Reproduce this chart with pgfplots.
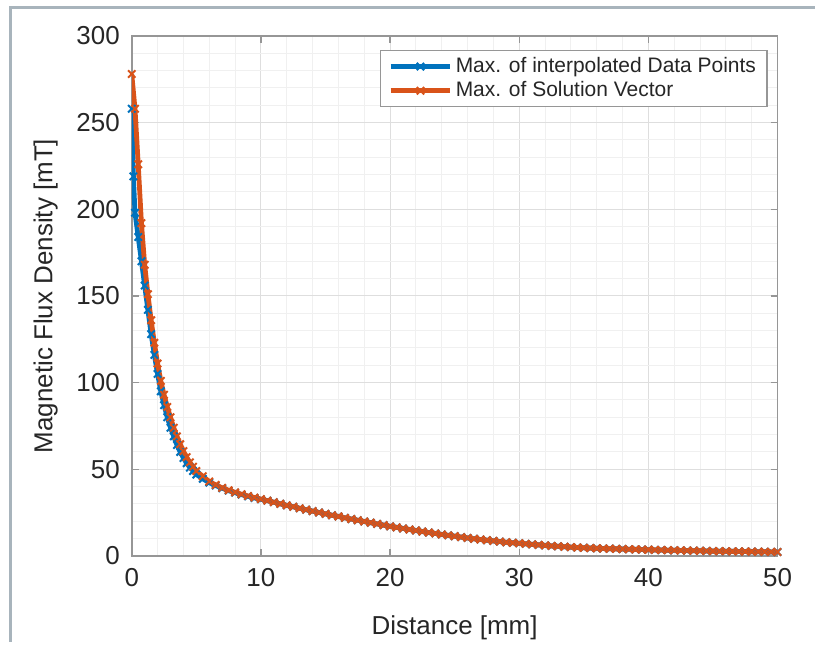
\documentclass[border=0pt]{standalone}
\usepackage{fontspec}
\setmainfont{Liberation Sans}
\usepackage{pgfplots}
\pgfplotsset{compat=1.18}
\definecolor{mblue}{RGB}{0,114,189}
\definecolor{morange}{RGB}{217,83,25}
\definecolor{axgray}{RGB}{150,150,150}
\definecolor{txtgray}{RGB}{38,38,38}
\definecolor{framegray}{RGB}{168,180,188}
\begin{document}
\begin{tikzpicture}
\path (-66pt,-43pt) rectangle (342pt,278.5pt);
\draw[framegray, line width=1.5pt] (-60.5pt,-43pt) -- (-60.5pt,274.5pt) -- (342pt,274.5pt);
\begin{axis}[
  at={(0,0)}, anchor=south west,
  scale only axis, width=323.5pt, height=260.5pt,
  xmin=0, xmax=50, ymin=0, ymax=300,
  xtick={0,10,...,50}, ytick={0,50,...,300},
  minor tick num=4,
  grid=both,
  major grid style={draw=black!13, line width=0.5pt},
  minor grid style={draw=black!6, line width=0.5pt},
  axis line style={axgray, line width=0.8pt},
  tick style={axgray, line width=0.6pt},
  major tick length=3.5pt, minor tick length=0pt,
  tick align=inside,
  /pgf/number format/assume math mode=true,
  tick label style={font=\fontsize{13}{15}\selectfont, text=txtgray},
  xticklabel style={yshift=-2.5pt},
  yticklabel style={xshift=-2.5pt},
  label style={font=\fontsize{13}{15}\selectfont, text=txtgray},
  xlabel={Distance [mm]}, ylabel={Magnetic Flux Density [mT]},
  xlabel style={yshift=-8pt},
  ylabel style={yshift=2.5pt},
  legend style={at={(1,1)}, anchor=north east, xshift=-5pt, yshift=-7pt,
    draw=axgray, line width=0.6pt, font=\fontsize{10.5}{12.5}\selectfont,
    text=txtgray, inner xsep=4pt, inner ysep=2pt, row sep=0pt,
    nodes={inner sep=1.5pt}},
  legend cell align=left,
  legend image code/.code={\draw[#1, mark repeat=2, mark phase=2] plot coordinates {(0pt,0pt) (15pt,0pt) (30pt,0pt)};},
]
\addplot[mblue, line width=2.4pt, mark=x, mark size=2.6pt, mark options={line width=1pt}] coordinates {
(0,258) (0.125,219) (0.25,198) (0.5,184) (0.75,170) (1,156) (1.25,142) (1.5,128) (1.75,116)
(2,105) (2.25,95) (2.5,87) (2.75,80) (3,74) (3.25,69) (3.5,64) (3.75,60)
(4,56.5) (4.25,53.5) (4.5,51) (4.75,49) (5,47) (5.5,44.5) (6,42.3) (6.5,40.6)
(7,39.1) (7.5,37.7) (8,36.5) (8.5,35.4) (9,34.4) (9.5,33.5) (10,32.7)
(10.5,31.9) (11,31.0) (11.5,30.1) (12,29.2) (12.5,28.4) (13,27.5) (13.5,26.7)
(14,25.9) (14.5,25.1) (15,24.3) (15.5,23.5) (16,22.8) (16.5,22.0) (17,21.3)
(17.5,20.6) (18,19.9) (18.5,19.2) (19,18.5) (19.5,17.8) (20,17.1) (20.5,16.5)
(21,15.9) (21.5,15.3) (22,14.7) (22.5,14.1) (23,13.5) (23.5,13.0) (24,12.4)
(24.5,11.9) (25,11.4) (25.5,10.9) (26,10.4) (26.5,9.9) (27,9.5) (27.5,9.1)
(28,8.7) (28.5,8.3) (29,7.9) (29.5,7.6) (30,7.3) (30.5,7.0) (31,6.7) (31.5,6.4)
(32,6.1) (32.5,5.8) (33,5.6) (33.5,5.3) (34,5.1) (34.5,4.9) (35,4.7) (35.5,4.55)
(36,4.4) (36.5,4.3) (37,4.2) (37.5,4.1) (38,4.0) (38.5,3.9) (39,3.8) (39.5,3.7)
(40,3.6) (40.5,3.5) (41,3.4) (41.5,3.35) (42,3.3) (42.5,3.2) (43,3.1) (43.5,3.05)
(44,3.0) (44.5,2.9) (45,2.8) (45.5,2.75) (46,2.7) (46.5,2.65) (47,2.6) (47.5,2.55)
(48,2.5) (48.5,2.45) (49,2.4) (49.5,2.35) (50,2.3)
};
\addlegendentry{Max. of interpolated Data Points}
\addplot[morange, line width=2.4pt, mark=x, mark size=2.6pt, mark options={line width=1pt}] coordinates {
(0,278) (0.25,258) (0.5,226) (0.75,192) (1,168) (1.25,151) (1.5,136) (1.75,123)
(2,111) (2.25,101) (2.5,93) (2.75,86) (3,80) (3.25,74) (3.5,69) (3.75,64.5)
(4,60.5) (4.25,57) (4.5,54) (4.75,51.5) (5,49) (5.5,46) (6,43) (6.5,41)
(7,39.3) (7.5,37.9) (8,36.7) (8.5,35.6) (9,34.6) (9.5,33.7) (10,32.8)
(10.5,31.9) (11,31.0) (11.5,30.1) (12,29.2) (12.5,28.4) (13,27.5) (13.5,26.7)
(14,25.9) (14.5,25.1) (15,24.3) (15.5,23.5) (16,22.8) (16.5,22.0) (17,21.3)
(17.5,20.6) (18,19.9) (18.5,19.2) (19,18.5) (19.5,17.8) (20,17.1) (20.5,16.5)
(21,15.9) (21.5,15.3) (22,14.7) (22.5,14.1) (23,13.5) (23.5,13.0) (24,12.4)
(24.5,11.9) (25,11.4) (25.5,10.9) (26,10.4) (26.5,9.9) (27,9.5) (27.5,9.1)
(28,8.7) (28.5,8.3) (29,7.9) (29.5,7.6) (30,7.3) (30.5,7.0) (31,6.7) (31.5,6.4)
(32,6.1) (32.5,5.8) (33,5.6) (33.5,5.3) (34,5.1) (34.5,4.9) (35,4.7) (35.5,4.55)
(36,4.4) (36.5,4.3) (37,4.2) (37.5,4.1) (38,4.0) (38.5,3.9) (39,3.8) (39.5,3.7)
(40,3.6) (40.5,3.5) (41,3.4) (41.5,3.35) (42,3.3) (42.5,3.2) (43,3.1) (43.5,3.05)
(44,3.0) (44.5,2.9) (45,2.8) (45.5,2.75) (46,2.7) (46.5,2.65) (47,2.6) (47.5,2.55)
(48,2.5) (48.5,2.45) (49,2.4) (49.5,2.35) (50,2.3)
};
\addlegendentry{Max. of Solution Vector}
\end{axis}
\end{tikzpicture}
\end{document}
